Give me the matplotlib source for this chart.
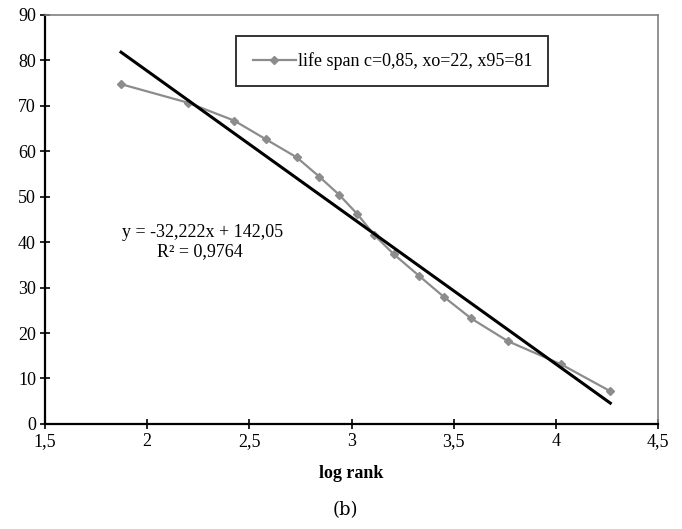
import matplotlib
matplotlib.use("Agg")
import matplotlib.pyplot as plt
import numpy as np

# data
log_rank = [1.872, 2.201, 2.425, 2.580, 2.732, 2.841, 2.939, 3.029, 3.112,
            3.207, 3.332, 3.450, 3.585, 3.765, 4.026, 4.266]
life_span = [74.7, 70.6, 66.7, 62.6, 58.6, 54.4, 50.4, 46.1, 41.5,
             37.3, 32.5, 28.0, 23.2, 18.2, 13.1, 7.2]
fit_slope = -32.222
fit_intercept = 142.05
x_ticks = [1.5, 2, 2.5, 3, 3.5, 4, 4.5]
x_tick_labels = ["1,5", "2", "2,5", "3", "3,5", "4", "4,5"]
y_ticks = [0, 10, 20, 30, 40, 50, 60, 70, 80, 90]

plt.rcParams["font.family"] = ["Liberation Serif", "DejaVu Serif"]
fs = 13

fig = plt.figure(figsize=(6.82, 5.29), dpi=100)
ax = fig.add_axes([0.066, 0.1985, 0.899, 0.774])

ax.plot(log_rank, life_span, color="#8c8c8c", lw=1.6, marker="D",
        markersize=4.5, label="life span c=0,85, xo=22, x95=81")
xf = np.array([min(log_rank), max(log_rank)])
ax.plot(xf, fit_slope * xf + fit_intercept, color="black", lw=2.2)

ax.set_xlim(1.5, 4.5)
ax.set_ylim(0, 90)
ax.set_xticks(x_ticks)
ax.set_xticklabels(x_tick_labels)
ax.set_yticks(y_ticks)
ax.tick_params(direction="inout", length=7, width=1.2, labelsize=fs, pad=3)
for side in ("left", "bottom"):
    ax.spines[side].set_linewidth(1.6)
    ax.spines[side].set_color("black")
for side in ("top", "right"):
    ax.spines[side].set_linewidth(1.2)
    ax.spines[side].set_color("#808080")

ax.set_xlabel("log rank", fontweight="bold", fontsize=fs, labelpad=11)

leg = ax.legend(loc="upper left", bbox_to_anchor=(0.312, 0.948), fontsize=fs,
                frameon=True, fancybox=False, handlelength=2.4,
                borderpad=0.9, handletextpad=0.1, borderaxespad=0)
leg.get_frame().set_edgecolor("black")
leg.get_frame().set_linewidth(1.4)

ax.text(2.27, 42.2, "y = -32,222x + 142,05", fontsize=fs, ha="center", va="center")
ax.text(2.26, 38.0, "R² = 0,9764", fontsize=fs, ha="center", va="center")

fig.text(0.506, 0.036, "(b)", fontsize=13, ha="center", va="center",
         family=["DejaVu Serif"])

fig.savefig("out.png", dpi=100)
